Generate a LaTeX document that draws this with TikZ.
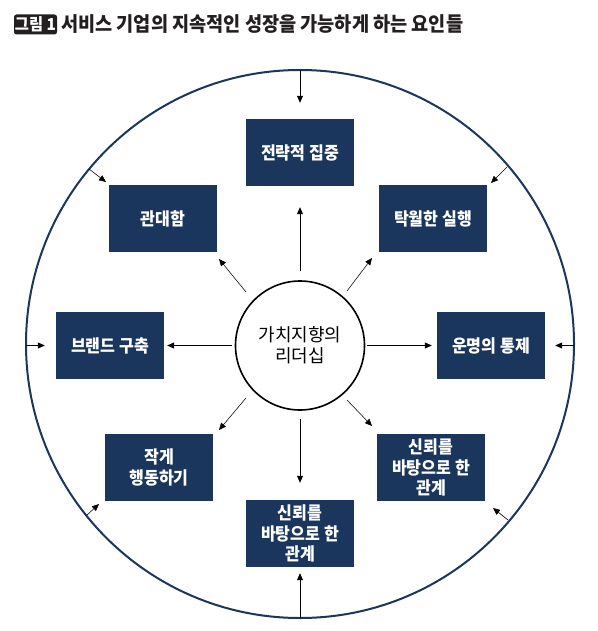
\documentclass[tikz,border=0pt]{standalone}
\usepackage{fontspec}
\setmainfont{Noto Sans CJK KR}
\newfontfamily\condfont{Noto Sans CJK KR}[FakeStretch=0.92]
\newfontfamily\titlefont{Noto Sans CJK KR}[FakeStretch=0.93]
\usetikzlibrary{arrows.meta}
\definecolor{navy}{HTML}{1A365D}
\definecolor{ink}{HTML}{231F20}
\tikzset{
  box/.style={fill=navy, text=white, minimum width=108pt, minimum height=67pt,
    inner sep=0pt, align=center, font=\condfont\fontsize{17.5}{20.5}\selectfont\bfseries},
  arr/.style={-{Triangle[length=7pt,width=6pt]}, line width=0.8pt, black},
  darr/.style={-{Triangle[length=7pt,width=6pt]}, line width=0.55pt, black},
}
\begin{document}
\begin{tikzpicture}[x=1pt,y=-1pt]
\useasboundingbox (0,0) rectangle (597,631);
% title
\node[fill=ink, rounded corners=2.5pt, text=white, inner sep=0pt, minimum width=43pt,
  minimum height=20pt, font=\titlefont\fontsize{16.5}{16.5}\selectfont\bfseries] (badge) at (35.5,24.5) {그림 1};
\node[anchor=west, inner sep=0pt, text=ink, font=\titlefont\fontsize{20}{20}\selectfont\bfseries]
  (title) at (61,24.5) {서비스 기업의 지속적인 성장을 가능하게 하는 요인들};
% outer circle
\draw[navy, line width=2pt] (300,344) circle[radius=274];
% centre
\node[draw=black, line width=1.6pt, circle, minimum size=129pt, inner sep=0pt, align=center,
  font=\fontsize{18}{21}\selectfont] (L) at (300,345.5) {가치지향의\\리더십};
% boxes
\node[box] (b1) at (300,152.5) {전략적 집중};
\node[box] (b2) at (163,218.5) {관대함};
\node[box] (b4) at (433,218.5) {탁월한 실행};
\node[box] (b3) at (110,345.5) {브랜드 구축};
\node[box] (b5) at (491,345.5) {운명의 통제};
\node[box] (b6) at (159,467.5) {작게\\행동하기};
\node[box] (b7) at (431,467.5) {신뢰를\\바탕으로 한\\관계};
\node[box] (b8) at (300,533.5) {신뢰를\\바탕으로 한\\관계};
% inner arrows
\draw[arr, shorten <=9pt, shorten >=21pt] (L.north) -- (b1.south);
\draw[arr, shorten <=3pt, shorten >=3pt] (L.west) -- (b3.east);
\draw[arr, shorten <=2pt, shorten >=5pt] (L.east) -- (b5.west);
\draw[arr, shorten <=8pt, shorten >=17pt] (L.south) -- (b8.north);
\coordinate (d1s) at (246,292); \coordinate (d1e) at (219,259);
\coordinate (d2s) at (347,291); \coordinate (d2e) at (372,258);
\coordinate (d3s) at (246,398); \coordinate (d3e) at (219,430);
\coordinate (d4s) at (347,400); \coordinate (d4e) at (372,426);
\draw[darr] (d1s) -- (d1e);
\draw[darr] (d2s) -- (d2e);
\draw[darr] (d3s) -- (d3e);
\draw[darr] (d4s) -- (d4e);
% outer arrows
\coordinate (o1) at (300,70);
\coordinate (o3) at (26,345.5);
\coordinate (o5) at (574,345.5);
\coordinate (o8) at (300,618);
\draw[arr, shorten >=16pt] (o1) -- (b1.north);
\draw[arr, shorten >=11pt] (o3) -- (b3.west);
\draw[arr, shorten >=10pt] (o5) -- (b5.east);
\draw[arr, shorten >=6pt] (o8) -- (b8.south);
\coordinate (q1s) at (89,169); \coordinate (q1e) at (106,182);
\coordinate (q2s) at (507,167); \coordinate (q2e) at (491,183);
\coordinate (q3s) at (508,520); \coordinate (q3e) at (493,508);
\coordinate (q4s) at (87,515); \coordinate (q4e) at (99,504);
\draw[darr] (q1s) -- (q1e);
\draw[darr] (q2s) -- (q2e);
\draw[darr] (q3s) -- (q3e);
\draw[darr] (q4s) -- (q4e);
\end{tikzpicture}
\end{document}
